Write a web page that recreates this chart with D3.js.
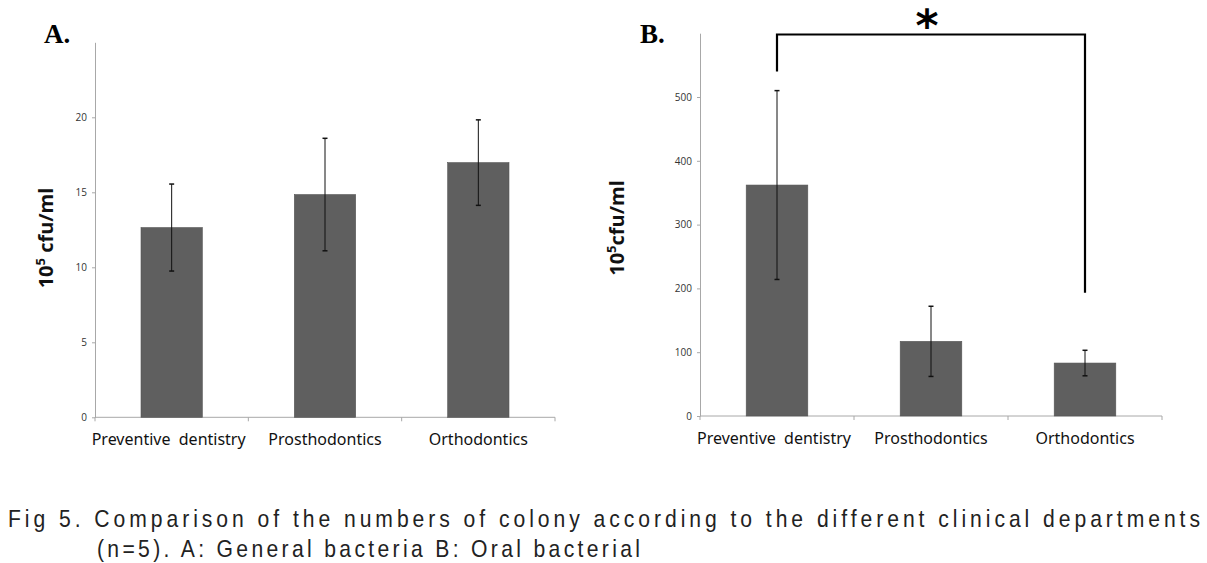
<!DOCTYPE html>
<html>
<head>
<meta charset="utf-8">
<script src="https://cdn.jsdelivr.net/npm/d3@7"></script>
<style>
  html, body { margin: 0; padding: 0; background: #fff; }
  svg { display: block; }
</style>
</head>
<body>
<svg id="chart" width="1207" height="563"></svg>
<script>
// ---- data ----
const categories = ["Preventive  dentistry", "Prosthodontics", "Orthodontics"];
const generalMeans = [12.65, 14.85, 16.98];
const generalErrors = [2.9, 3.75, 2.85];
const generalTicks = [0, 5, 10, 15, 20];
const generalMax = 25;

const oralMeans = [362, 117, 83];
const oralErrors = [148, 55, 20];
const oralTicks = [0, 100, 200, 300, 400, 500];
const oralMax = 600;

const sigPair = ["Preventive  dentistry", "Orthodontics"];
const sigLevels = { top: 598, leftEnd: 540, rightEnd: 193 };
const sigMark = "*";

const panelLetters = ["A.", "B."];
const yTitles = ["cfu/ml", "cfu/ml"];
const captionLines = [
  "Fig 5. Comparison of the numbers of colony according to the different clinical departments",
  "(n=5). A: General bacteria B: Oral bacterial"
];

// ---- drawing ----
const svg = d3.select("#chart");
const barColor = "#5f5f5f";
const axisColor = "#a8a8a8";

function drawPanel(cfg) {
  const x = d3.scaleBand().domain(categories).range(cfg.xr).paddingInner(0.6).paddingOuter(0.3);
  const y = d3.scaleLinear().domain([0, cfg.max]).range(cfg.yr);
  const g = svg.append("g");

  // y axis
  const ya = g.append("g").attr("transform", `translate(${cfg.xr[0]},0)`)
    .call(d3.axisLeft(y).tickValues(cfg.ticks).tickSize(3).tickSizeOuter(0).tickPadding(5));
  ya.select(".domain").attr("stroke", axisColor);
  ya.selectAll(".tick line").attr("stroke", axisColor);
  ya.selectAll(".tick text").attr("fill", "#333").style("font-family", "Open Sans, sans-serif").style("font-size", "10px");

  // x axis baseline and category separators
  g.append("line").attr("x1", cfg.xr[0]).attr("x2", cfg.xr[1])
    .attr("y1", y(0)).attr("y2", y(0)).attr("stroke", axisColor);
  const bounds = d3.range(categories.length + 1).map(i => cfg.xr[0] + i * x.step());
  g.selectAll(".sep").data(bounds).join("line")
    .attr("x1", d => d).attr("x2", d => d)
    .attr("y1", y(0)).attr("y2", y(0) + 4).attr("stroke", axisColor);

  // bars
  g.selectAll(".bar").data(cfg.means).join("rect")
    .attr("x", (d, i) => x(categories[i]))
    .attr("y", d => y(d))
    .attr("width", x.bandwidth())
    .attr("height", d => y(0) - y(d))
    .attr("fill", barColor).attr("stroke", "#555").attr("stroke-width", 0.6);

  // error bars
  const eb = g.selectAll(".err").data(cfg.means).join("g")
    .attr("transform", (d, i) => `translate(${x(categories[i]) + x.bandwidth() / 2},0)`);
  eb.append("line").attr("y1", (d, i) => y(d + cfg.errs[i])).attr("y2", (d, i) => y(d - cfg.errs[i]))
    .attr("stroke", "#111").attr("stroke-width", 1);
  eb.append("line").attr("x1", -2.5).attr("x2", 2.5)
    .attr("y1", (d, i) => y(d + cfg.errs[i])).attr("y2", (d, i) => y(d + cfg.errs[i]))
    .attr("stroke", "#111").attr("stroke-width", 1.5);
  eb.append("line").attr("x1", -2.5).attr("x2", 2.5)
    .attr("y1", (d, i) => y(d - cfg.errs[i])).attr("y2", (d, i) => y(d - cfg.errs[i]))
    .attr("stroke", "#111").attr("stroke-width", 1.5);

  // category labels
  g.selectAll(".cat").data(categories).join("text")
    .attr("x", d => x(d) + x.bandwidth() / 2 + (d === categories[0] ? -3 : 0))
    .attr("y", y(0) + 28)
    .attr("text-anchor", "middle")
    .attr("fill", "#111")
    .style("font-family", "Noto Sans, sans-serif")
    .style("font-size", "16px")
    .style("white-space", "pre")
    .attr("xml:space", "preserve")
    .text(d => d);

  // y title
  const t = g.append("text")
    .attr("transform", `translate(${cfg.titleX},${cfg.titleY}) rotate(-90)`)
    .attr("text-anchor", "middle")
    .style("font-family", "Open Sans, sans-serif")
    .style("font-weight", "bold")
    .style("font-size", "20px")
    .attr("fill", "#111");
  t.append("tspan").text("10");
  t.append("tspan").attr("dy", -8).style("font-size", "13px").text("5");
  t.append("tspan").attr("dy", 8).text(cfg.gap + cfg.title);

  // panel letter
  g.append("text").attr("x", cfg.letterX).attr("y", 43)
    .style("font-family", "Liberation Serif, serif").style("font-weight", "bold")
    .style("font-size", "27px").attr("fill", "#000").text(cfg.letter);

  return { x, y, g };
}

drawPanel({ xr: [95, 555], yr: [417.3, 42.3], max: generalMax, ticks: generalTicks,
  means: generalMeans, errs: generalErrors, title: yTitles[0], gap: " ",
  titleX: 53, titleY: 238, letter: panelLetters[0], letterX: 44 });

const pB = drawPanel({ xr: [700, 1162], yr: [416, 33.2], max: oralMax, ticks: oralTicks,
  means: oralMeans, errs: oralErrors, title: yTitles[1], gap: "",
  titleX: 624, titleY: 228, letter: panelLetters[1], letterX: 640 });

// significance bracket
const xl = pB.x(sigPair[0]) + pB.x.bandwidth() / 2;
const xr = pB.x(sigPair[1]) + pB.x.bandwidth() / 2;
const bracket = d3.line()([
  [xl, pB.y(sigLevels.leftEnd)], [xl, pB.y(sigLevels.top)],
  [xr, pB.y(sigLevels.top)], [xr, pB.y(sigLevels.rightEnd)]
]);
svg.append("path").attr("d", bracket).attr("fill", "none")
  .attr("stroke", "#000").attr("stroke-width", 2.2);
svg.append("text").attr("x", (xl + xr) / 2 - 4).attr("y", 41)
  .attr("text-anchor", "middle")
  .style("font-family", "DejaVu Sans, sans-serif").style("font-weight", "bold")
  .style("font-size", "44px").attr("fill", "#000").text(sigMark);

// caption (narrow, tall glyphs spread across the line)
const sx = 0.88;
const capLines = [
  { x: 8, y: 527, w: 1192 },
  { x: 97, y: 557, w: 543 }
];
capLines.forEach((c, i) => {
  svg.append("g").attr("transform", `translate(${c.x},${c.y}) scale(${sx},1)`)
    .append("text").attr("x", 0).attr("y", 0)
    .attr("textLength", c.w / sx).attr("lengthAdjust", "spacing")
    .style("font-family", "'Liberation Sans', sans-serif")
    .style("font-size", "24px").attr("fill", "#222")
    .text(captionLines[i]);
});
</script>
</body>
</html>
